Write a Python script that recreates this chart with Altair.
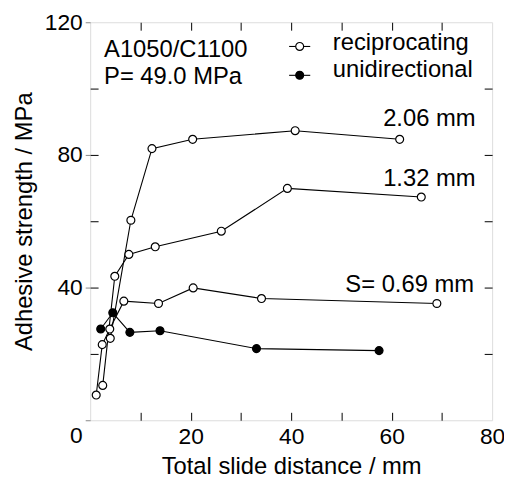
import altair as alt
import pandas as pd

# ---- data ----
s206_x = [4.0, 8.1, 12.3, 20.4, 40.8, 61.6]
s206_y = [24.7, 60.3, 81.9, 84.7, 87.3, 84.7]
s132_x = [2.5, 4.9, 7.7, 12.95, 26.1, 39.25, 65.9]
s132_y = [10.5, 43.4, 50.0, 52.3, 57.0, 69.9, 67.3]
s069_x = [1.2, 2.4, 3.9, 6.7, 13.6, 20.5, 34.1, 69.0]
s069_y = [7.6, 22.8, 27.5, 35.9, 35.2, 39.9, 36.7, 35.2]
uni_x = [2.1, 4.5, 7.9, 13.9, 33.1, 57.5]
uni_y = [27.5, 32.4, 26.5, 27.0, 21.6, 21.0]

x_label_values = [20, 40, 60, 80]
y_label_values = [0, 40, 80, 120]
x_minor = [10, 20, 30, 40, 50, 60, 70]
y_minor = [20, 40, 60, 80, 100]

# annotations (data units)
left_text = ["A1050/C1100", "P= 49.0 MPa"]
left_text_x = [2.76, 2.76]
left_text_y = [109.6, 101.3]
right_text = ["2.06 mm", "1.32 mm", "S= 0.69 mm"]
right_text_x = [76.7, 76.7, 76.4]
right_text_y = [88.7, 70.7, 38.6]
legend_labels = ["reciprocating", "unidirectional"]
legend_text_x = [48.3, 48.3]
legend_text_y = [111.6, 103.6]
legend_sym_x = [41.7, 41.7]
legend_sym_y = [112.7, 104.0]
legend_line_x = [39.6, 43.8]

FONT = "Liberation Sans"

rows = []
for name, xs_, ys_, kind in [("2.06", s206_x, s206_y, "reciprocating"),
                             ("1.32", s132_x, s132_y, "reciprocating"),
                             ("0.69", s069_x, s069_y, "reciprocating"),
                             ("uni", uni_x, uni_y, "unidirectional")]:
    for i, (a, b) in enumerate(zip(xs_, ys_)):
        rows.append({"series": name, "x": a, "y": b, "order": i, "kind": kind})
df = pd.DataFrame(rows)

xs = alt.Scale(domain=[0, 80], nice=False)
ys = alt.Scale(domain=[0, 120], nice=False)

cond_base = {"condition": {"test": "datum.value == 0", "value": "top"}, "value": "middle"}
cond_off = {"condition": {"test": "datum.value == 0", "value": 4}, "value": 0}

x_main = alt.Axis(orient="bottom", values=x_label_values, ticks=False, domain=False, grid=False,
                  labelFontSize=23, labelPadding=5, labelFlush=False,
                  title="Total slide distance / mm", titleFontSize=24, titleFontWeight="normal",
                  titlePadding=7)
y_main = alt.Axis(orient="left", values=y_label_values, tickSize=5, domain=False, grid=False,
                  labelFontSize=23, labelPadding=3, labelBaseline=cond_base, labelOffset=cond_off,
                  title="Adhesive strength / MPa", titleFontSize=24, titleFontWeight="normal",
                  titlePadding=8)

lines = alt.Chart(df).mark_line(color="black", strokeWidth=1.1).encode(
    x=alt.X("x:Q", scale=xs, axis=x_main),
    y=alt.Y("y:Q", scale=ys, axis=y_main),
    detail="series:N",
    order="order:O",
)

points = alt.Chart(df).mark_circle(size=64, stroke="black", strokeWidth=1.2, opacity=1).encode(
    x=alt.X("x:Q", scale=xs, axis=None),
    y=alt.Y("y:Q", scale=ys, axis=None),
    fill=alt.Fill("kind:N", scale=alt.Scale(domain=["reciprocating", "unidirectional"],
                                             range=["white", "black"]), legend=None),
)

def tick_axis(orient, vals):
    return alt.Axis(orient=orient, values=vals, offset=-8, tickSize=8, tickWidth=1,
                    labels=False, domain=False, grid=False, title=None, tickColor="black")

ticks_bl = alt.Chart(df).mark_point(opacity=0).encode(
    x=alt.X("x:Q", scale=xs, axis=tick_axis("bottom", x_minor)),
    y=alt.Y("y:Q", scale=ys, axis=tick_axis("left", y_minor)),
)
ticks_tr = alt.Chart(df).mark_point(opacity=0).encode(
    x=alt.X("x:Q", scale=xs, axis=tick_axis("top", x_minor)),
    y=alt.Y("y:Q", scale=ys, axis=tick_axis("right", y_minor)),
)

ltxt = alt.Chart(pd.DataFrame({"t": left_text, "x": left_text_x, "y": left_text_y})).mark_text(
    align="left", baseline="alphabetic", fontSize=24, font=FONT, color="black").encode(
    x=alt.X("x:Q", scale=xs, axis=None), y=alt.Y("y:Q", scale=ys, axis=None), text="t:N")
rtxt = alt.Chart(pd.DataFrame({"t": right_text, "x": right_text_x, "y": right_text_y})).mark_text(
    align="right", baseline="alphabetic", fontSize=24, font=FONT, color="black").encode(
    x=alt.X("x:Q", scale=xs, axis=None), y=alt.Y("y:Q", scale=ys, axis=None), text="t:N")
legtxt = alt.Chart(pd.DataFrame({"t": legend_labels, "x": legend_text_x, "y": legend_text_y})).mark_text(
    align="left", baseline="alphabetic", fontSize=24, font=FONT, color="black").encode(
    x=alt.X("x:Q", scale=xs, axis=None), y=alt.Y("y:Q", scale=ys, axis=None), text="t:N")

leg_rows = []
for lab, yy in zip(legend_labels, legend_sym_y):
    leg_rows.append({"kind": lab, "x": legend_line_x[0], "x2": legend_line_x[1], "y": yy})
leg_df = pd.DataFrame(leg_rows)
leg_lines = alt.Chart(leg_df).mark_rule(color="black", strokeWidth=1.1).encode(
    x=alt.X("x:Q", scale=xs, axis=None), x2="x2:Q", y=alt.Y("y:Q", scale=ys, axis=None))
leg_pts = alt.Chart(pd.DataFrame({"kind": legend_labels, "x": legend_sym_x, "y": legend_sym_y})).mark_circle(
    size=64, stroke="black", strokeWidth=1.2, opacity=1).encode(
    x=alt.X("x:Q", scale=xs, axis=None), y=alt.Y("y:Q", scale=ys, axis=None),
    fill=alt.Fill("kind:N", scale=alt.Scale(domain=["reciprocating", "unidirectional"],
                                             range=["white", "black"]), legend=None))

chart = alt.layer(lines, ticks_bl, ticks_tr, points, ltxt, rtxt, legtxt, leg_lines, leg_pts).resolve_axis(
    x="independent", y="independent"
).properties(
    width=406, height=402,
    padding={"left": 83, "top": 12, "right": 12, "bottom": 62},
    autosize=alt.AutoSizeParams(type="none"),
).configure_view(stroke="black", strokeWidth=1.3).configure_axis(
    labelFont=FONT, titleFont=FONT, labelColor="black", titleColor="black", tickColor="black"
).configure(background="white")

chart.save("out.html", embed_options={"renderer": "svg", "actions": False})
